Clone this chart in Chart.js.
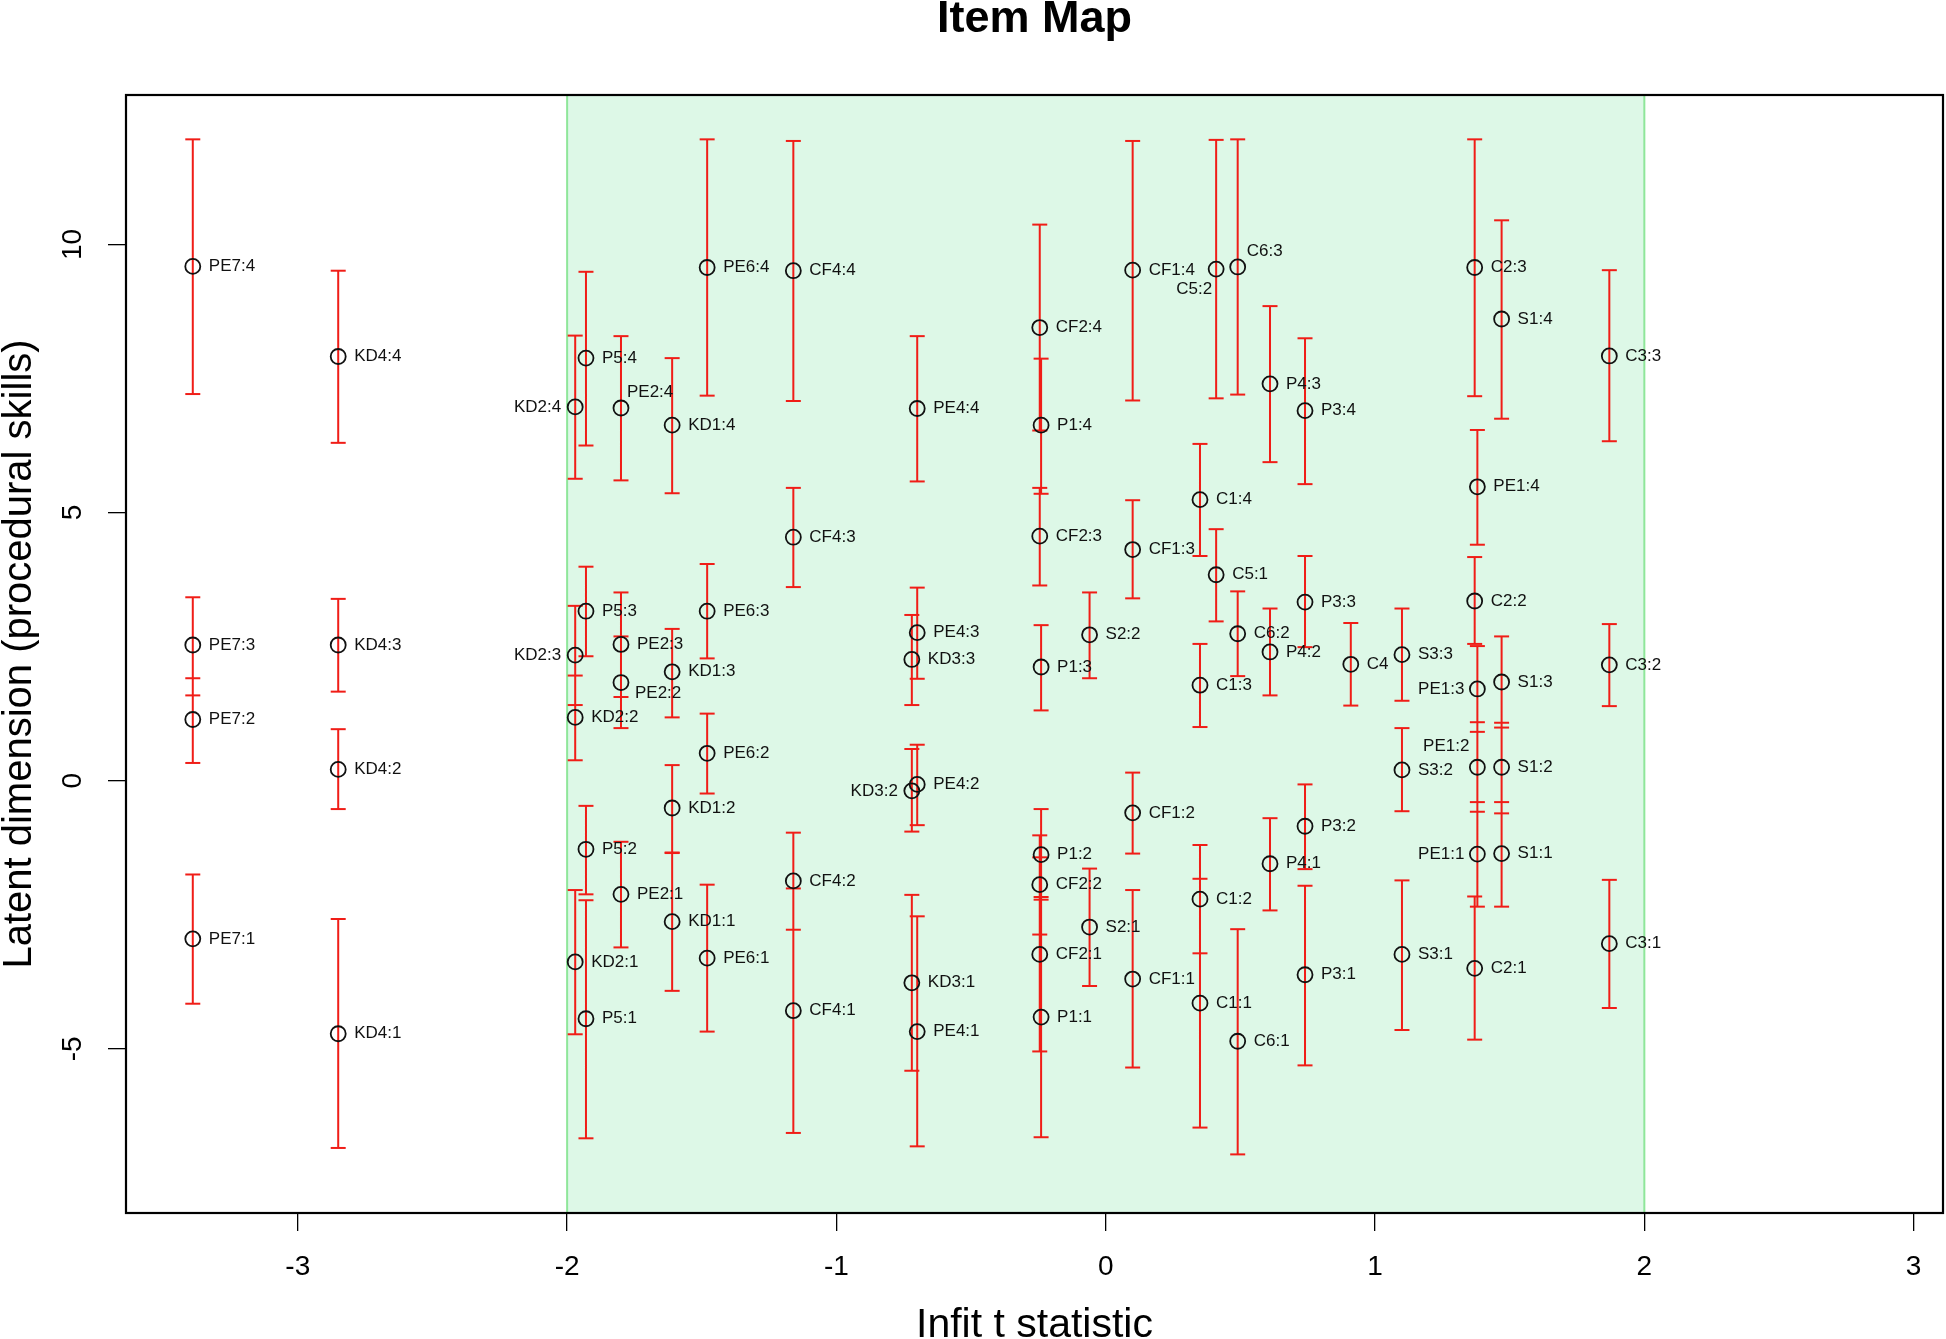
<!DOCTYPE html>
<html>
<head>
<meta charset="utf-8">
<title>Item Map</title>
<script src="https://cdn.jsdelivr.net/npm/chart.js@4.4.1/dist/chart.umd.min.js"></script>
<style>
  html, body { margin: 0; padding: 0; background: #fff; }
  canvas { display: block; }
</style>
</head>
<body>
<canvas id="itemMap" width="1946" height="1339"></canvas>
<script>
// items and their infit t statistic (one column per item)
const items = ["PE7", "KD4", "KD2", "P5", "PE2", "KD1", "PE6", "CF4", "KD3", "PE4", "CF2", "P1", "S2",
  "CF1", "C1", "C5", "C6", "P4", "P3", "C4", "S3", "C2", "PE1", "S1", "C3"];
const infit = [-3.39, -2.85, -1.97, -1.93, -1.80, -1.61, -1.48, -1.16, -0.72, -0.70, -0.245, -0.24, -0.06,
  0.10, 0.35, 0.41, 0.49, 0.61, 0.74, 0.91, 1.10, 1.37, 1.38, 1.47, 1.87];

// step thresholds (step 1 first) and their interval limits
const thresholds = [
  [-2.95, 1.14, 2.53, 9.59], [-4.72, 0.21, 2.53, 7.91], [-3.38, 1.18, 2.34, 6.97], [-4.44, -1.28, 3.16, 7.88],
  [-2.12, 1.83, 2.54, 6.95], [-2.63, -0.51, 2.03, 6.63], [-3.31, 0.51, 3.16, 9.57], [-4.29, -1.87, 4.54, 9.51],
  [-3.77, -0.19, 2.26], [-4.68, -0.07, 2.76, 6.94], [-3.24, -1.94, 4.56, 8.45], [-4.41, -1.38, 2.12, 6.63],
  [-2.73, 2.72], [-3.70, -0.60, 4.31, 9.52], [-4.15, -2.21, 1.78, 5.24], [3.84, 9.54], [-4.86, 2.74, 9.58],
  [-1.55, 2.40, 7.40], [-3.62, -0.85, 3.33, 6.90], [2.17], [-3.24, 0.20, 2.35], [-3.50, 3.35, 9.57],
  [-1.37, 0.25, 1.71, 5.48], [-1.36, 0.25, 1.84, 8.61], [-3.04, 2.16, 7.92]
];
const lowerCI = [
  [-4.16, 0.33, 1.59, 7.21], [-6.85, -0.53, 1.66, 6.30], [-4.73, 0.38, 1.41, 5.63], [-6.67, -2.12, 2.32, 6.25],
  [-3.11, 0.98, 1.56, 5.60], [-3.92, -1.34, 1.18, 5.36], [-4.68, -0.24, 2.28, 7.18], [-6.57, -2.78, 3.61, 7.08],
  [-5.41, -0.95, 1.41], [-6.82, -0.83, 1.90, 5.58], [-5.05, -2.87, 3.64, 6.53], [-6.65, -2.22, 1.31, 5.35],
  [-3.83, 1.91], [-5.35, -1.36, 3.40, 7.09], [-6.47, -3.22, 1.00, 4.19], [2.97, 7.13], [-6.97, 1.95, 7.20],
  [-2.42, 1.59, 5.94], [-5.31, -1.65, 2.49, 5.53], [1.40], [-4.65, -0.57, 1.49], [-4.83, 2.55, 7.17],
  [-2.35, -0.58, 0.91, 4.40], [-2.35, -0.61, 0.99, 6.75], [-4.24, 1.39, 6.33]
];
const upperCI = [
  [-1.75, 1.91, 3.42, 11.96], [-2.58, 0.96, 3.39, 9.51], [-2.04, 1.96, 3.26, 8.30], [-2.23, -0.47, 3.99, 9.49],
  [-1.14, 2.69, 3.51, 8.29], [-1.35, 0.29, 2.83, 7.88], [-1.94, 1.25, 4.04, 11.96], [-2.01, -0.97, 5.46, 11.93],
  [-2.13, 0.59, 3.09], [-2.53, 0.67, 3.60, 8.29], [-1.43, -1.02, 5.46, 10.37], [-2.17, -0.53, 2.90, 7.87],
  [-1.64, 3.51], [-2.04, 0.15, 5.23, 11.93], [-1.83, -1.20, 2.55, 6.28], [4.69, 11.95], [-2.77, 3.53, 11.96],
  [-0.70, 3.21, 8.85], [-1.96, -0.07, 4.19, 8.25], [2.94], [-1.86, 0.98, 3.21], [-2.16, 4.17, 11.96],
  [-0.40, 1.09, 2.51, 6.54], [-0.40, 1.08, 2.69, 10.45], [-1.85, 2.92, 9.52]
];

const xTicks = [-3, -2, -1, 0, 1, 2, 3];
const yTicks = [-5, 0, 5, 10];
const fitBand = [-2, 2];

// where a label sits when it is not just right of its point
const labelPlacement = {
  "KD2:4": { align: "right", dx: -14, dy: 0 },
  "KD2:3": { align: "right", dx: -14, dy: 0 },
  "KD3:2": { align: "right", dx: -14, dy: 0 },
  "PE1:3": { align: "right", dx: -13, dy: 0 },
  "PE1:1": { align: "right", dx: -13, dy: 0 },
  "PE2:4": { align: "left", dx: 6, dy: -16 },
  "C6:3": { align: "left", dx: 9, dy: -16 },
  "C5:2": { align: "right", dx: -4, dy: 20 },
  "PE1:2": { align: "right", dx: -8, dy: -21 },
  "PE2:2": { align: "left", dx: 14, dy: 11 },
};
const defaultPlacement = { align: "left", dx: 16, dy: 0 };

const FONT = "'Liberation Sans', Arial, Helvetica, sans-serif";
const RED = "#f01d17";

function buildSeries() {
  const points = [];
  const bars = [];
  const labels = [];
  items.forEach((item, i) => {
    thresholds[i].forEach((t, k) => {
      points.push({ x: infit[i], y: t });
      labels.push(thresholds[i].length > 1 ? `${item}:${k + 1}` : item);
      bars.push({ x: infit[i], y: lowerCI[i][k] });
      bars.push({ x: infit[i], y: upperCI[i][k] });
      bars.push({ x: infit[i], y: null });
    });
  });
  return { points, bars, labels };
}

const bandPlugin = {
  id: "fitBand",
  beforeDatasetsDraw(chart) {
    const { ctx, chartArea, scales } = chart;
    const x0 = scales.x.getPixelForValue(fitBand[0]);
    const x1 = scales.x.getPixelForValue(fitBand[1]);
    ctx.save();
    ctx.fillStyle = "#ddf8e7";
    ctx.fillRect(x0, chartArea.top, x1 - x0, chartArea.bottom - chartArea.top);
    ctx.strokeStyle = "#8fe69a";
    ctx.lineWidth = 2;
    ctx.beginPath();
    ctx.moveTo(x0, chartArea.top);
    ctx.lineTo(x0, chartArea.bottom);
    ctx.moveTo(x1, chartArea.top);
    ctx.lineTo(x1, chartArea.bottom);
    ctx.stroke();
    ctx.restore();
  },
};

const labelPlugin = {
  id: "pointLabels",
  afterDatasetsDraw(chart) {
    const { ctx } = chart;
    const meta = chart.getDatasetMeta(0);
    const labels = chart.data.datasets[0].pointLabels;
    ctx.save();
    ctx.font = `17px ${FONT}`;
    ctx.fillStyle = "#111";
    ctx.textBaseline = "middle";
    meta.data.forEach((pt, i) => {
      const p = labelPlacement[labels[i]] || defaultPlacement;
      ctx.textAlign = p.align;
      ctx.fillText(labels[i], pt.x + p.dx, pt.y + p.dy);
    });
    ctx.restore();
  },
};

const boxPlugin = {
  id: "plotBox",
  afterDraw(chart) {
    const { ctx, chartArea } = chart;
    ctx.save();
    ctx.strokeStyle = "#000";
    ctx.lineWidth = 2.2;
    ctx.strokeRect(chartArea.left, chartArea.top, chartArea.right - chartArea.left, chartArea.bottom - chartArea.top);
    ctx.restore();
  },
};

function crearItemMap() {
  const { points, bars, labels } = buildSeries();
  const ctx = document.getElementById("itemMap");

  new Chart(ctx, {
    type: "scatter",
    data: {
      datasets: [
        {
          label: "Thresholds",
          data: points,
          pointLabels: labels,
          pointStyle: "circle",
          pointRadius: 7.5,
          pointBorderWidth: 1.8,
          pointBorderColor: "#111",
          pointBackgroundColor: "rgba(0,0,0,0)",
        },
        {
          label: "Interval",
          data: bars,
          showLine: true,
          spanGaps: false,
          borderColor: RED,
          borderWidth: 2,
          pointStyle: "line",
          pointRadius: 7.5,
          pointBorderWidth: 2,
          pointBorderColor: RED,
        },
      ],
    },
    options: {
      responsive: false,
      devicePixelRatio: 1,
      animation: false,
      layout: { autoPadding: false, padding: { left: 0, right: 3, top: 0, bottom: 0 } },
      plugins: {
        legend: { display: false },
        tooltip: { enabled: false },
        title: {
          display: true,
          text: "Item Map",
          fullSize: false,
          color: "#000",
          font: { family: FONT, size: 45, weight: "bold", lineHeight: 1 },
          padding: { top: -3, bottom: 53 },
        },
      },
      scales: {
        x: {
          type: "linear",
          min: -3.638,
          max: 3.109,
          afterBuildTicks: (axis) => { axis.ticks = xTicks.map((v) => ({ value: v })); },
          afterFit: (axis) => {
            axis.height = 126;
            axis.paddingLeft = 0;
            axis.paddingRight = 0;
          },
          border: { display: false },
          grid: { drawOnChartArea: false, drawTicks: true, tickLength: 18, color: "#000", lineWidth: 1.3 },
          ticks: { padding: 19, color: "#000", font: { family: FONT, size: 28 }, maxRotation: 0, autoSkip: false },
          title: {
            display: true,
            text: "Infit t statistic",
            color: "#000",
            font: { family: FONT, size: 41, lineHeight: 1 },
            padding: { top: 0, bottom: -7 },
          },
        },
        y: {
          type: "linear",
          min: -8.063,
          max: 12.787,
          afterBuildTicks: (axis) => { axis.ticks = yTicks.map((v) => ({ value: v })); },
          afterFit: (axis) => {
            axis.width = 126;
            axis.paddingTop = 0;
            axis.paddingBottom = 0;
          },
          border: { display: false },
          grid: { drawOnChartArea: false, drawTicks: true, tickLength: 18, color: "#000", lineWidth: 1.3 },
          ticks: {
            padding: 19, color: "#000", font: { family: FONT, size: 28 },
            minRotation: 90, maxRotation: 90, crossAlign: "center", autoSkip: false,
          },
          title: {
            display: true,
            text: "Latent dimension (procedural skills)",
            color: "#000",
            font: { family: FONT, size: 40, lineHeight: 1 },
            padding: { top: 0, bottom: 0 },
          },
        },
      },
    },
    plugins: [bandPlugin, labelPlugin, boxPlugin],
  });
}

crearItemMap();
</script>
</body>
</html>
